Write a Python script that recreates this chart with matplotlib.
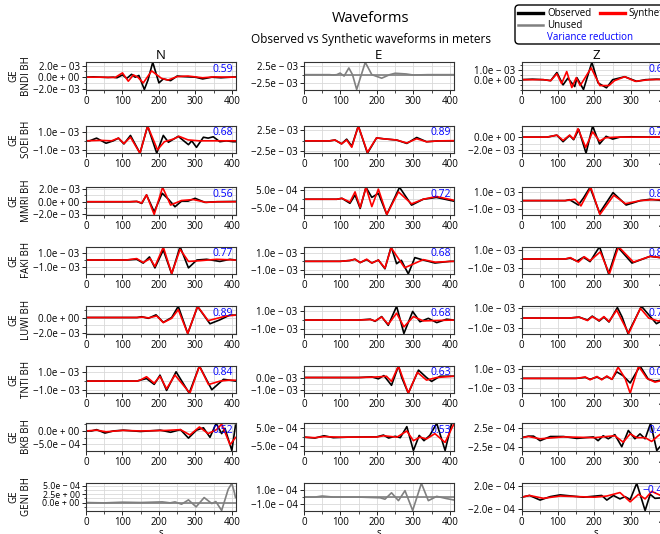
import numpy as np
import matplotlib
matplotlib.use('Agg')
import matplotlib.pyplot as plt
from matplotlib.ticker import AutoMinorLocator, MultipleLocator
from matplotlib.lines import Line2D
from matplotlib.patches import FancyBboxPatch
from matplotlib.transforms import IdentityTransform

plt.rcParams['font.family'] = ['Open Sans', 'DejaVu Sans']

# amplitudes below are in units of 1e-4 m, times in s
stations = ['BNDI', 'SOEI', 'MMRI', 'FAKI', 'LUWI', 'TNTI', 'BKB', 'GENI']
comps = ['N', 'E', 'Z']

bndi_n_obs = [(0, 0), (20, 0.5), (40, 0), (60, -0.5), (75, 0), (85, -1), (100, 4), (112, -2), (125, 5), (135, 0), (145, 3), (160, -21.5), (170, -5), (183, 26), (200, -10), (212, -3), (232, -6), (250, 2), (270, 1), (300, 0), (320, -3), (345, 0), (370, -1), (410, 0.5)]
bndi_n_syn = [(0, 0), (40, 0), (80, -0.5), (100, 7.5), (116, -7), (130, 4), (142, 0), (157, -10), (180, 11), (207, -2), (225, -5), (250, 1), (280, 2), (320, -1), (350, 0.5), (410, 0)]
bndi_e_obs = [(0, 0), (70, 0), (80, -1), (90, 0), (99, 4.5), (110, -4), (123, 19), (133, 0), (144.5, -42), (168, 35), (186, 0), (213, -10), (235, 0), (250, 4), (280, 2), (300, -1), (340, 0), (410, 0)]
bndi_e_syn = [(0, 0), (410, 0)]
bndi_z_obs = [(0, 0), (30, 0.5), (60, 0), (80, -1), (97, 7.3), (114, -5.3), (127, 1.5), (146, -7), (152, 2), (170, -10), (193, 17.7), (210, -3.3), (233, -8.3), (250, 0), (283, 3), (316, -1.7), (340, 0), (370, 0.5), (410, 0)]
bndi_z_syn = [(0, 0), (60, 0), (80, -1), (97, 6), (110, -4), (124, 8.3), (138, -8), (150, 2), (161, -6), (191, 12), (215, -6), (240, -6), (255, -1), (283, 3), (312, -1.7), (350, 0), (410, 0.5)]

soei_n_obs = [(0, 0), (10, 0), (29, 3), (55, -2.7), (75, 0), (89, 3), (104, -3.5), (122, 6), (148, -13.8), (169, 16.5), (194, -13.8), (212, 6), (226, -1.6), (253, 5), (281, -4.3), (290, 0), (303, -7.3), (322, 4), (335, 3), (349, 4.5), (367, -1), (385, 0), (403, -1), (410, -1)]
soei_n_syn = [(0, 0), (40, 0.5), (70, 0), (89, 3), (104, -3), (122, 4), (148, -13.8), (169, 16.5), (196, -10), (215, -1), (240, 2), (255, 5), (280, 1), (310, 0), (360, 0), (410, 0)]
soei_e_obs = [(0, 0), (70, 0), (85, 2), (103, -7), (117, 4), (131, -12.5), (149, 35), (174, -29), (199, 7), (217, 5), (254, 2), (282, -6), (309, 8), (336, -2), (370, 0), (410, 0)]
soei_e_syn = [(0, 0), (70, 0), (85, 2), (103, -7), (117, 2), (131, -15), (149, 35), (174, -27), (199, 7), (217, 5), (254, 2), (282, -5), (309, 5), (336, -2), (370, 0), (410, 0.5)]
soei_z_obs = [(0, 0), (70, 0), (97, 3), (114, -7), (132, 2.6), (143, -4), (157, 11.6), (177, -24.6), (195, 17), (214, -10.5), (232, 1.2), (250, -3), (270, 0), (300, 0.5), (360, 0), (410, 0)]
soei_z_syn = [(0, 0), (70, 0), (97, 3), (114, -5), (132, 3), (143, -3), (155, 13), (176, -15.8), (195, 8), (214, -6), (230, -1), (260, 0), (410, 0)]

mmri_n_obs = [(0, 0), (120, 0), (139, 0.5), (153, -2.6), (166, 10.8), (187, -16), (209, 13.5), (226, 4), (244, -8), (262, 1), (280, 1), (299, 5.5), (326, -1), (357, 0), (410, 0.5)]
mmri_n_syn = [(0, 0), (120, 0), (140, 0.5), (153, -2), (166, 11), (187, -20.3), (210, 23), (232, -5.3), (262, 2), (294, 3.5), (330, -1), (360, 0), (410, 0)]
mmri_e_obs = [(0, 0), (90, 0), (104, 0.5), (126, -2.2), (140, 2.3), (154, -5), (170, 6.5), (186, 1), (204, 3.2), (227, -8.3), (262, 6.5), (295, -3.2), (327, 0), (363, 1), (410, -1)]
mmri_e_syn = [(0, 0), (90, 0), (104, 0.5), (126, -1.5), (140, 4), (154, -4.5), (170, 6.5), (186, -4), (204, 5.5), (227, -8.3), (259, 4), (295, -2.5), (327, 0), (363, 1.5), (410, -0.5)]
mmri_z_obs = [(0, 0), (120, 0), (132, 1), (156, -5), (170, 3), (188, 15), (214, -14), (251, 9), (287, -5), (326, 0), (353, 1.5), (410, -1)]
mmri_z_syn = [(0, 0), (120, 0), (147, 1.5), (163, -6), (190, 15), (215, -15.7), (253, 6), (285, -3.5), (326, 0), (360, 1), (410, 1)]

faki_n_obs = [(0, 0), (110, 0), (139, 1), (157, -4.3), (174, 4.3), (189, -11), (212, 14), (235, -19.4), (258, 18.6), (281, -11), (304, 0), (331, 1), (367, -2), (395, 1), (410, 0)]
faki_n_syn = [(0, 0), (110, 0), (139, 2), (157, -3.5), (176, 2), (189, -9), (212, 18), (235, -19), (258, 15), (281, -2), (312, -1), (358, 1), (410, 0)]
faki_e_obs = [(0, 0), (100, 0), (126, 1), (140, 2.4), (154, -1.5), (172, 2), (186, -2), (204, 1.5), (222, -8.8), (239, 17.2), (254, -2.8), (267, 1.2), (286, -14.8), (304, 4.4), (323, 2), (359, -2), (400, 0), (410, 0)]
faki_e_syn = [(0, 0), (100, 0), (126, 1), (140, 2.5), (154, -1.5), (172, 2.5), (186, -2), (204, 1.5), (222, -8), (239, 16), (276, -7.6), (327, 2), (360, -1), (410, 0)]
faki_z_obs = [(0, 0), (120, 0), (134, 1), (152, -2.5), (170, 2), (188, -3), (214, 13.8), (239, -16.8), (263, 13.8), (303, -4.6), (353, 3), (410, 0)]
faki_z_syn = [(0, 0), (120, 0), (134, 1.5), (156, -3.5), (172, 2.5), (188, -2), (216, 8), (241, -16.8), (266, 13.8), (307, -3.5), (353, 3), (410, 0)]

luwi_n_obs = [(0, 0), (140, 0), (153, 1), (171, -1), (192, 3.4), (212, -6.2), (235, 0), (253, 14.3), (279, -20.4), (306, 14), (340, -8), (367, -3), (394, 3), (410, 3)]
luwi_n_syn = [(0, 0), (140, 0), (155, 0.5), (172, -0.5), (194, 2), (212, -6.5), (235, -1), (253, 10), (279, -20.4), (306, 14.3), (335, -4), (385, 2), (410, 3)]
luwi_e_obs = [(0, 0), (150, 0), (182, 1), (195, -1.5), (213, 4), (231, -6.2), (254, 16), (274, -15.7), (298, 10), (318, -2), (341, 2), (364, -3), (391, 1), (410, 0)]
luwi_e_syn = [(0, 0), (150, 0), (182, 0.5), (195, -1), (213, 3.5), (231, -5), (254, 8), (274, -8), (300, 4), (327, -1), (410, 0)]
luwi_z_obs = [(0, 0), (130, 0), (158, 1), (181, -2), (194, 2), (213, -3), (226, 1), (240, -4), (263, 10.7), (276, 1), (292, -15.7), (329, 12), (370, -5.7), (410, 2)]
luwi_z_syn = [(0, 0), (130, 0), (158, 1), (181, -2.5), (194, 1.5), (213, -2.5), (226, 1.5), (240, -3.5), (261, 8), (294, -15.7), (326, 10), (349, 0), (375, -3), (410, 1)]

tnti_n_obs = [(0, 0), (140, 0), (148, 1), (166, 2.9), (187, -3.8), (203, 6.8), (221, -10.8), (247, 10.7), (283, -14), (311, 17.4), (345, -10), (377, 2), (395, 1), (410, 0)]
tnti_n_syn = [(0, 0), (140, 0), (148, 1), (166, 5), (187, -2.5), (203, 5.5), (221, -9), (244, 7), (285, -14), (311, 17.4), (336, -4), (368, 0), (390, 1), (410, 1)]
tnti_e_obs = [(0, 0), (150, 0), (186, 0.5), (204, -1), (219, 1.5), (240, -6), (259, 8.9), (268, 0), (286, -12.1), (314, 5.7), (336, 0), (350, -3), (373, 1), (410, 1)]
tnti_e_syn = [(0, 0), (150, 0), (186, 0.3), (204, 0.5), (226, 1), (240, -3), (259, 8.9), (286, -12.1), (311, 4), (336, -2), (364, 0), (410, 1)]
tnti_z_obs = [(0, 0), (150, 0), (175, 1), (188, -1), (207, 1.5), (220, -1), (234, 2), (248, -1), (261, 7), (278, 3), (298, -4.9), (325, 13.2), (348, -1), (366, -3), (410, 0)]
tnti_z_syn = [(0, 0), (150, 0), (175, 1.5), (188, -1.5), (207, 2), (220, -1.5), (234, 2.5), (248, -1), (265, 12), (284, 0), (298, -15.8), (321, 13), (344, 0), (366, -4), (410, 0)]

bkb_n_obs = [(0, 0), (15, 0), (29, 0.5), (52, -0.8), (75, 0), (103, 0.3), (149, -0.2), (204, 0.3), (232, -0.5), (259, 0.5), (281, -2.7), (303, 0.3), (322, 1.2), (340, -2.4), (357, 2.9), (372, -1), (381, 1), (400, -7.4), (410, 2.2)]
bkb_n_syn = [(0, 0), (29, 0.3), (55, -0.3), (100, 0.2), (150, 0), (220, 0.2), (259, 0.5), (285, -1.5), (311, 1.5), (335, -1), (358, 0.5), (372, 2.6), (395, -5.2), (410, -2.5)]
bkb_e_obs = [(0, 0), (30, -0.5), (55, 0.8), (80, -0.3), (120, 0), (200, 0.2), (218, 1.2), (232, -0.5), (250, 0.5), (264, -0.3), (282, 6), (300, -7.6), (316, 1), (329, -2), (345, 1), (364, 7.9), (387, -7.6), (405, 7.9), (410, 7.9)]
bkb_e_syn = [(0, 0), (30, -0.3), (55, 0.3), (100, 0), (200, 0.1), (218, 0.8), (255, 0), (282, 3.5), (300, -2), (318, 0), (336, -1), (359, 2), (387, -3), (405, 5), (410, 7)]
bkb_z_obs = [(0, 0), (19, 0.4), (33, 0.4), (51, -0.8), (79, 0.3), (115, 0.3), (152, -0.2), (197, 0.2), (210, -0.8), (224, 0.5), (238, -0.3), (256, 0.8), (275, -2.4), (293, 1.9), (311, -0.3), (325, 1), (339, -0.3), (354, 3.8), (371, -3.4), (410, 1)]
bkb_z_syn = [(0, 0), (19, 0.3), (51, -0.3), (115, 0.2), (200, 0), (256, 0.5), (279, -1.2), (298, 1), (316, 0), (339, 0), (357, -1), (375, 0.5), (410, 3)]

geni_n_obs = [(0, 0), (50, -0.1), (100, 0.1), (150, 0), (209, 0.2), (231, -0.1), (244, 0.2), (262, -0.5), (281, 0.8), (302, -1.3), (324, 1.5), (345, -0.3), (356, 0.3), (372, -2.4), (390, 4), (400, 5.8), (407, 3), (410, 1.5)]
geni_n_syn = [(0, 0), (410, 0)]
geni_e_obs = [(0, 0), (30, 0), (50, 0.15), (80, 0), (150, 0), (209, -0.1), (222, -0.3), (240, 0.6), (259, -0.5), (277, 0.9), (298, -1.88), (322, 1.93), (341, -0.5), (364, 0.1), (390, -0.2), (410, -0.4)]
geni_e_syn = [(0, 0), (410, 0)]
geni_z_obs = [(0, 0), (22, 0.3), (51, -0.5), (79, 0.1), (106, 0.4), (170, 0), (220, 0.3), (234, -0.5), (252, 0.3), (270, -0.3), (284, 0.1), (298, -0.43), (316, 2.4), (339, -2.3), (353, 0.5), (366, -0.2), (410, 0)]
geni_z_syn = [(0, 0), (22, 0.3), (60, -0.2), (106, 0.2), (200, 0), (234, 0.2), (270, 0.8), (298, -0.8), (321, 0.5), (339, -0.3), (357, 1), (410, -0.5)]

# y ticks (1e-4 m) and their printed labels, per component, one entry per station
n_ticks = [[20, 0, -20], [10, -10], [20, 0, -20], [10, -10], [0, -20], [10, -10], [0, -5], [5, 2.5, 0]]
n_labels = [['2.0e − 03', '0.0e + 00', '−2.0e − 03'], ['1.0e − 03', '−1.0e − 03'],
            ['2.0e − 03', '0.0e + 00', '−2.0e − 03'], ['1.0e − 03', '−1.0e − 03'],
            ['0.0e + 00', '−2.0e − 03'], ['1.0e − 03', '−1.0e − 03'],
            ['0.0e + 00', '−5.0e − 04'], ['5.0e − 04', '2.5e + 00', '0.0e + 00']]
e_ticks = [[25, -25], [25, -25], [5, -5], [10, -10], [10, -10], [0, -10], [5, -5], [1, -1]]
e_labels = [['2.5e − 03', '−2.5e − 03'], ['2.5e − 03', '−2.5e − 03'], ['5.0e − 04', '−5.0e − 04'],
            ['1.0e − 03', '−1.0e − 03'], ['1.0e − 03', '−1.0e − 03'], ['0.0e − 03', '−1.0e − 03'],
            ['5.0e − 04', '−5.0e − 04'], ['1.0e − 04', '−1.0e − 04']]
z_ticks = [[10, 0], [0, -20], [10, -10], [10, -10], [10, -10], [10, -10], [2.5, -2.5], [2, -2]]
z_labels = [['1.0e − 03', '0.0e + 00'], ['0.0e + 00', '−2.0e − 03'], ['1.0e − 03', '−1.0e − 03'],
            ['1.0e − 03', '−1.0e − 03'], ['1.0e − 03', '−1.0e − 03'], ['1.0e − 03', '−1.0e − 03'],
            ['2.5e − 04', '−2.5e − 04'], ['2.0e − 04', '−2.0e − 04']]

# variance reduction, None = unused trace
vr_n = [0.59, 0.68, 0.56, 0.77, 0.89, 0.84, 0.52, None]
vr_e = [None, 0.89, 0.72, 0.68, 0.68, 0.63, 0.53, None]
vr_z = [0.64, 0.71, 0.83, 0.81, 0.74, 0.05, 0.41, -0.42]

g = globals()
traces = {(s, c): (g[f'{s.lower()}_{c.lower()}_obs'], g[f'{s.lower()}_{c.lower()}_syn'])
          for s in stations for c in comps}
ticks = {'N': (n_ticks, n_labels, vr_n), 'E': (e_ticks, e_labels, vr_e), 'Z': (z_ticks, z_labels, vr_z)}

W, H = 660, 534
fig = plt.figure(figsize=(W / 100, H / 100), dpi=100)

col_left = [86, 304, 521.5]
row_top = [62.3, 126, 187.3, 246.7, 306.3, 366, 423.3, 483.3]
ax_w, ax_h = 149.5, 27.2

for i, sta in enumerate(stations):
    for j, comp in enumerate(comps):
        ax = fig.add_axes([col_left[j] / W, 1 - (row_top[i] + ax_h) / H, ax_w / W, ax_h / H])
        obs, syn = traces[(sta, comp)]
        tk, lb, vr = ticks[comp]
        t_o, v_o = np.array(obs, dtype=float).T
        t_s, v_s = np.array(syn, dtype=float).T
        if vr[i] is None:
            ax.plot(t_o, v_o * 1e-4, color='gray', lw=1.2)
            ax.plot(t_s, v_s * 1e-4, color='gray', lw=1.2)
        else:
            ax.plot(t_o, v_o * 1e-4, color='black', lw=1.2)
            ax.plot(t_s, v_s * 1e-4, color='red', lw=1.2)
            ax.text(0.985, 0.95, f'{vr[i]:.2f}'.replace('-', '−'), transform=ax.transAxes,
                    ha='right', va='top', color='blue', fontsize=7.5)
        ax.margins(x=0, y=0)
        ax.set_xticks([0, 100, 200, 300, 400])
        ax.xaxis.set_minor_locator(MultipleLocator(50))
        ax.set_yticks(np.array(tk[i]) * 1e-4, lb[i])
        ax.yaxis.set_minor_locator(AutoMinorLocator(2))
        ax.grid(which='both', color='#d9d9d9', lw=0.6)
        ax.set_axisbelow(True)
        ax.tick_params(labelsize=7, length=3, width=0.6, pad=1.5)
        ax.tick_params(which='minor', length=1.8, width=0.5)
        if len(tk[i]) == 3 and tk[i][0] - tk[i][1] < 5:
            # three labels packed in a short span: a touch smaller so they stay apart
            ax.tick_params(axis='y', labelsize=6.3)
        for sp in ax.spines.values():
            sp.set_linewidth(0.8)
            sp.set_color('#333333')
        if i == 0:
            ax.set_title(comp, fontsize=9.5, pad=1.5)
        if i == len(stations) - 1:
            ax.set_xlabel('s', fontsize=7, labelpad=0)
        if j == 0:
            fig.text(20 / W, 1 - (row_top[i] + ax_h / 2) / H, f'GE\n{sta} BH', rotation=90,
                     ha='center', va='center', fontsize=7, linespacing=1.2)

fig.text(371 / W, 1 - 19 / H, 'Waveforms', ha='center', va='center', fontsize=10.5)
fig.text(371 / W, 1 - 39 / H, 'Observed vs Synthetic waveforms in meters', ha='center', va='center', fontsize=8.5)

# legend box drawn by hand so it can hold the blue note as a third row
box = FancyBboxPatch((515, H - 44), 200, 39, boxstyle='round,pad=0,rounding_size=4',
                     transform=IdentityTransform(), fc='white', ec='black', lw=1.0, zorder=4)
fig.patches.append(box)

handles = [Line2D([], [], color='black', lw=2.4), Line2D([], [], color='gray', lw=1.8),
           Line2D([], [], color='red', lw=2.4), Line2D([], [], color='none')]
labels = ['Observed', 'Unused', 'Synthetic', '']
leg = fig.legend(handles, labels, ncol=2, loc='upper left', bbox_to_anchor=(515 / W, 1 - 5 / H),
                 fontsize=7, handlelength=2.6, handletextpad=0.4, borderaxespad=0, borderpad=0.3,
                 labelspacing=0.12, columnspacing=0.85, frameon=False)
leg.set_zorder(5)

# blue note sits in the box's third row, under "Unused"
fig.canvas.draw()
inv = fig.transFigure.inverted()
b0 = leg.get_texts()[0].get_window_extent()
b1 = leg.get_texts()[1].get_window_extent()
c0 = (b0.y0 + b0.y1) / 2
c1 = (b1.y0 + b1.y1) / 2
x_vr, y_vr = inv.transform((b0.x0, c1 - (c0 - c1)))
fig.text(x_vr, y_vr, 'Variance reduction', color='blue', fontsize=7, ha='left', va='center', zorder=6)

fig.savefig('out.png', dpi=100)
